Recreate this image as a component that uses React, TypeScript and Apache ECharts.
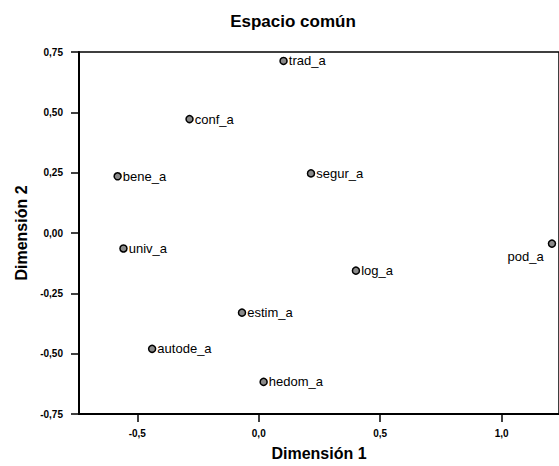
import React, { useEffect, useRef } from "react";
import * as echarts from "echarts";

const names = ["trad_a", "conf_a", "bene_a", "segur_a", "univ_a", "log_a", "pod_a", "estim_a", "autode_a", "hedom_a"];
const dim1 = [0.102, -0.285, -0.581, 0.215, -0.557, 0.40, 1.207, -0.069, -0.439, 0.020];
const dim2 = [0.713, 0.472, 0.235, 0.247, -0.064, -0.156, -0.044, -0.330, -0.480, -0.617];
const xTicks = [-0.5, 0, 0.5, 1.0];
const leftLabelNames = ["pod_a"];

const fmt = (v: number) => v.toFixed(2).replace(".", ",");
const fmtX = (v: number) => v.toFixed(1).replace(".", ",");

export default function App() {
  const ref = useRef<HTMLDivElement>(null);
  useEffect(() => {
    if (!ref.current) return;
    const chart = echarts.init(ref.current, undefined, { renderer: "svg" });
    const font = "Arial, 'Liberation Sans', sans-serif";
    const data = names.map((n, i) => {
      const left = leftLabelNames.includes(n);
      return {
        name: n,
        value: [dim1[i], dim2[i]],
        label: {
          position: left ? "left" : "right",
          distance: left ? 4 : 1,
          color: "#000",
          offset: left ? [0, 13] : [0, 0],
        },
      };
    });
    chart.setOption({
      animation: false,
      backgroundColor: "#ffffff",
      title: {
        text: "Espacio común",
        left: 288,
        textAlign: "center",
        top: 8,
        textStyle: { fontFamily: font, fontSize: 17, fontWeight: "bold", color: "#000" },
      },
      grid: {
        left: 79,
        top: 52,
        right: -5,
        bottom: 52,
        show: true,
        borderColor: "#000",
        borderWidth: 1.5,
      },
      xAxis: {
        type: "value",
        min: -0.74,
        max: 1.236,
        name: "Dimensión 1",
        nameLocation: "middle",
        nameGap: 31,
        nameTextStyle: { fontFamily: font, fontSize: 16, fontWeight: "bold", color: "#000" },
        splitLine: { show: false },
        axisLine: { show: true, onZero: false, lineStyle: { color: "#000", width: 2 } },
        axisTick: { show: true, inside: false, length: 8, customValues: xTicks, lineStyle: { color: "#000", width: 1.5 } },
        axisLabel: {
          customValues: xTicks,
          formatter: (v: number) => fmtX(v),
          margin: 14,
          fontFamily: font,
          fontSize: 10,
          fontWeight: "bold",
          color: "#000",
        },
      },
      yAxis: {
        type: "value",
        min: -0.75,
        max: 0.75,
        interval: 0.25,
        name: "Dimensión 2",
        nameLocation: "middle",
        nameRotate: 90,
        nameGap: 50,
        nameTextStyle: { fontFamily: font, fontSize: 16, fontWeight: "bold", color: "#000" },
        splitLine: { show: false },
        axisLine: { show: true, onZero: false, lineStyle: { color: "#000", width: 2 } },
        axisTick: { show: true, inside: false, length: 8, lineStyle: { color: "#000", width: 1.5 } },
        axisLabel: {
          formatter: (v: number) => fmt(v),
          margin: 16,
          fontFamily: font,
          fontSize: 10,
          fontWeight: "bold",
          color: "#000",
        },
      },
      series: [
        {
          type: "scatter",
          data,
          symbol: "circle",
          symbolSize: 7,
          itemStyle: { color: "#8a8a8a", borderColor: "#000", borderWidth: 1.5, opacity: 1 },
          label: {
            show: true,
            formatter: (p: any) => p.name,
            fontFamily: font,
            fontSize: 13,
            color: "#000",
            textBorderWidth: 0,
          },
          clip: false,
        },
      ],
    });
    return () => chart.dispose();
  }, []);
  return (
    <div
      ref={ref}
      style={{ position: "fixed", left: 0, top: 0, width: 559, height: 466, overflow: "hidden" }}
    />
  );
}
